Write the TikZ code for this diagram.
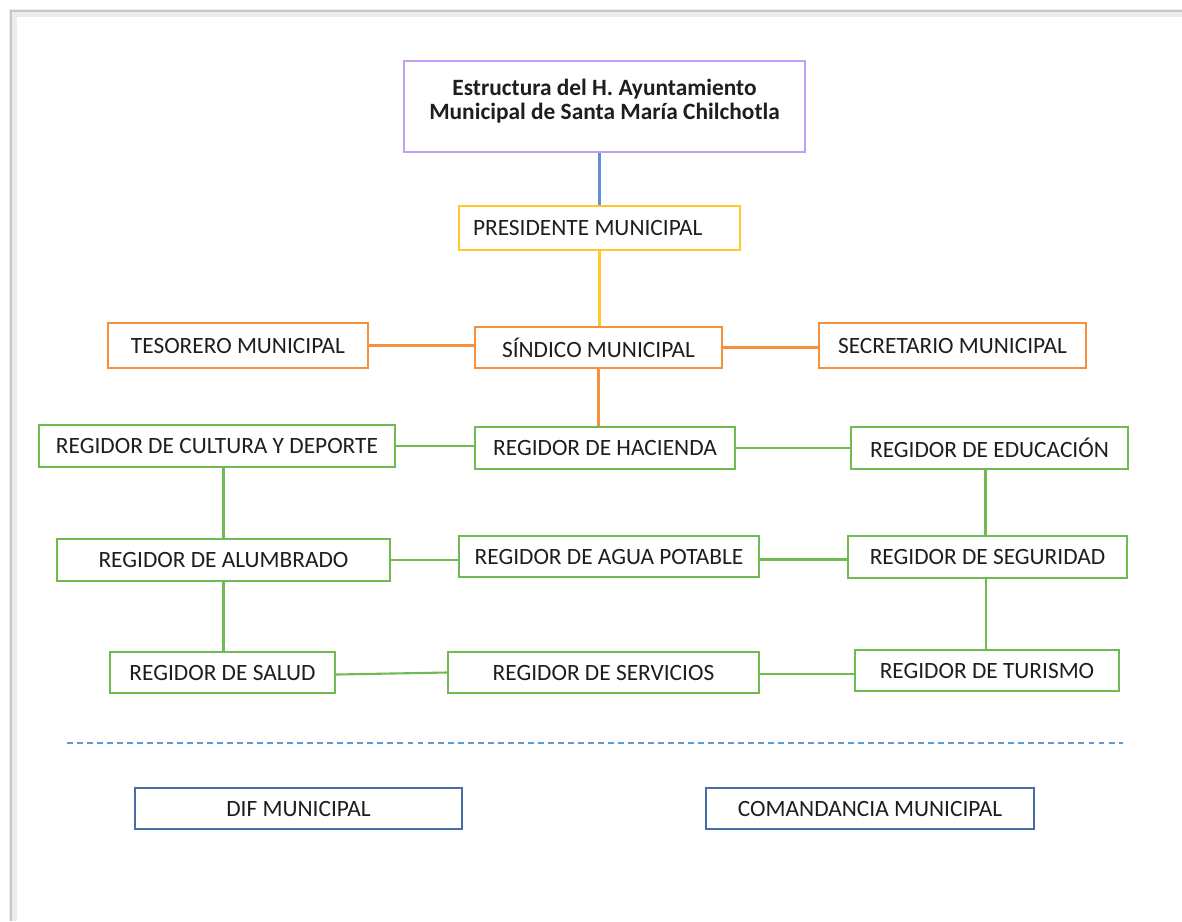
\documentclass[tikz,border=0pt]{standalone}
\usepackage{fontspec}
\setmainfont{Carlito}
\usepackage{tikz}
\usetikzlibrary{calc}
\definecolor{titlepurple}{RGB}{190,160,245}
\definecolor{presyellow}{RGB}{255,200,45}
\definecolor{sindorange}{RGB}{245,145,60}
\definecolor{regreen}{RGB}{112,186,82}
\definecolor{dirblue}{RGB}{70,110,165}
\definecolor{linkblue}{RGB}{100,140,220}
\definecolor{sepblue}{RGB}{90,155,220}
\definecolor{inkgray}{RGB}{30,30,30}
\tikzset{
	box/.style={draw, line width=1.1pt, inner sep=0pt, text=inkgray, font=\fontsize{13.3}{13.7}\selectfont},
	link/.style={line width=1.2pt}
}

\begin{document}
\begin{tikzpicture}[x=0.02cm, y=-0.02cm]
			%%%%% START %%%%%
			\useasboundingbox[fill=white] (0, 0) rectangle (1182, 921);
			\draw[gray!15, line width=4pt] (13, 921) -- (13, 13) -- (1182, 13);
			\draw[gray!45, line width=1pt] (11, 921) -- (11, 11) -- (1182, 11);
			
			\node[box, draw=titlepurple, minimum width=8.02cm, minimum height=1.82cm, align=center,
				font=\fontsize{13.3}{13.7}\selectfont\bfseries] (title) at (604.5, 106.5)
				{Estructura del H. Ayuntamiento\\Municipal de Santa María Chilchotla\\[-0.2cm]\mbox{}};
			\node[box, draw=presyellow, minimum width=5.62cm, minimum height=0.88cm,
				text width=5.06cm, align=flush left, inner xsep=0.28cm] (pres) at (599.5, 228) {PRESIDENTE MUNICIPAL};
			
			\node[box, draw=sindorange, minimum width=4.94cm, minimum height=0.82cm] (sind) at (598.5, 347.5) {SÍNDICO MUNICIPAL};
			\node[box, draw=sindorange, minimum width=5.20cm, minimum height=0.90cm] (tes) at (238, 345.5) {TESORERO MUNICIPAL};
			\node[box, draw=sindorange, minimum width=5.34cm, minimum height=0.90cm] (sec) at (952.5, 345.5) {SECRETARIO MUNICIPAL};
			
			\node[box, draw=regreen, minimum width=7.12cm, minimum height=0.84cm] (cul) at (217, 446) {REGIDOR DE CULTURA Y DEPORTE};
			\node[box, draw=regreen, minimum width=5.20cm, minimum height=0.84cm] (hac) at (605, 448) {REGIDOR DE HACIENDA};
			\node[box, draw=regreen, minimum width=5.54cm, minimum height=0.84cm] (edu) at (989.5, 448) {REGIDOR DE EDUCACIÓN};
			
			\node[box, draw=regreen, minimum width=6.66cm, minimum height=0.84cm] (alu) at (223.5, 560) {REGIDOR DE ALUMBRADO};
			\node[box, draw=regreen, minimum width=6.00cm, minimum height=0.82cm] (agua) at (609, 556.5) {REGIDOR DE AGUA POTABLE};
			\node[box, draw=regreen, minimum width=5.58cm, minimum height=0.84cm] (seg) at (987.5, 557) {REGIDOR DE SEGURIDAD};
			
			\node[box, draw=regreen, minimum width=4.50cm, minimum height=0.82cm] (sal) at (222.5, 672.5) {REGIDOR DE SALUD};
			\node[box, draw=regreen, minimum width=6.22cm, minimum height=0.82cm] (ser) at (603.5, 672.5) {REGIDOR DE SERVICIOS};
			\node[box, draw=regreen, minimum width=5.28cm, minimum height=0.82cm] (tur) at (987, 670.5) {REGIDOR DE TURISMO};
			
			\node[box, draw=dirblue, minimum width=6.54cm, minimum height=0.82cm] (dif) at (298.5, 808.5) {DIF MUNICIPAL};
			\node[box, draw=dirblue, minimum width=6.56cm, minimum height=0.82cm] (com) at (870, 808.5) {COMANDANCIA MUNICIPAL};
			
			% links
			\draw[link, linkblue] (pres.north) -- (pres.north |- title.south);
			\draw[link, presyellow] (pres.south) -- (pres.south |- sind.north);
			\draw[link, sindorange] (tes.east) -- (tes.east -| sind.west);
			\draw[link, sindorange] (sind.east) -- (sind.east -| sec.west);
			\draw[link, sindorange] (sind.south) -- (sind.south |- hac.north);
			
			\draw[link, regreen] (cul.east) -- (cul.east -| hac.west);
			\draw[link, regreen] (hac.east) -- (edu.west);
			\draw[link, regreen] (alu.north) -- (alu.north |- cul.south);
			\draw[link, regreen] ([xshift=-0.04cm]seg.north) -- ([xshift=-0.04cm]seg.north |- edu.south);
			\draw[link, regreen] (alu.east) -- (alu.east -| agua.west);
			\draw[link, regreen] ([yshift=-0.06cm]agua.east) -- ([yshift=-0.06cm]agua.east -| seg.west);
			\draw[link, regreen] (alu.south) -- (alu.south |- sal.north);
			\draw[link, regreen] ([xshift=-0.02cm]tur.north) -- ([xshift=-0.02cm]tur.north |- seg.south);
			\draw[link, regreen] ([yshift=-0.04cm]sal.east) -- (ser.west);
			\draw[link, regreen] ([yshift=-0.03cm]ser.east) -- ([yshift=-0.03cm]ser.east -| tur.west);
			
			% separator
			\coordinate (sepL) at (67, 743);
			\coordinate (sepR) at (1123, 743);
			\draw[sepblue, line width=1.1pt, dash pattern=on 3.4pt off 2.3pt] (sepL) -- (sepR);
			%%%%% END %%%%%
		\end{tikzpicture}
\end{document}
